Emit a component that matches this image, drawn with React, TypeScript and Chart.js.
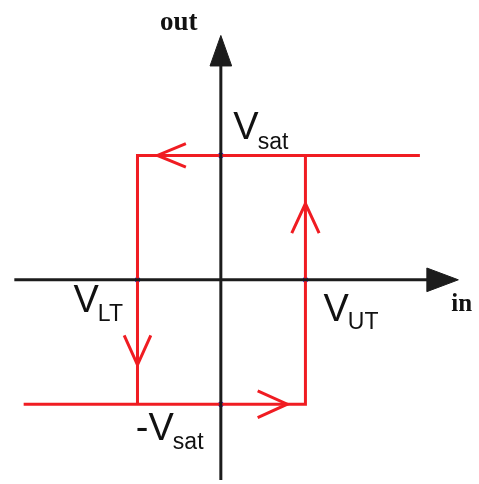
import React, { useEffect, useRef } from "react";
import { Chart, registerables } from "chart.js";

Chart.register(...registerables);

// Levels (normalised: Vsat = 1)
const VSAT = 1;
const VUT = 0.68;
const VLT = -0.67;

// Visible window (same unit on both axes)
const X_RANGE = [-1.743, 2.043];
const Y_RANGE = [-1.609, 2.217];

// Axes (in / out)
const hAxisX = [-1.66, 1.86];
const hAxisY = [0, 0];
const vAxisX = [0, 0];
const vAxisY = [-1.62, 1.93];
const hHeadX = [1.656, 1.909, 1.656, 1.656];
const hHeadY = [0.095, 0, -0.095, 0.095];
const vHeadX = [-0.087, 0, 0.087, -0.087];
const vHeadY = [1.719, 1.964, 1.719, 1.719];

// Hysteresis loop branches
const upperBranchX = [1.6, VLT, VLT];
const upperBranchY = [VSAT, VSAT, -VSAT];
const lowerBranchX = [-1.585, VUT, VUT];
const lowerBranchY = [-VSAT, -VSAT, VSAT];

// Direction chevrons
const leftChevX = [-0.281, -0.51, -0.281];
const leftChevY = [1.095, 1, 0.905];
const upChevX = [VUT - 0.11, VUT, VUT + 0.11];
const upChevY = [0.375, 0.613, 0.375];
const downChevX = [VLT - 0.107, VLT, VLT + 0.107];
const downChevY = [-0.447, -0.684, -0.447];
const rightChevX = [0.296, 0.534, 0.296];
const rightChevY = [-0.893, -1, -1.107];

// Marked points
const markX = [0, VLT, VUT, 0];
const markY = [VSAT, 0, 0, -VSAT];

const pts = (xs: number[], ys: number[]) => xs.map((x, i) => ({ x, y: ys[i] }));

const RED = "#f01c22";
const BLACK = "#1c1c1c";

const labelPlugin = {
  id: "labels",
  afterDatasetsDraw(chart: any) {
    const { ctx } = chart;
    const sx = chart.scales.x;
    const sy = chart.scales.y;
    const px = (v: number) => sx.getPixelForValue(v);
    const py = (v: number) => sy.getPixelForValue(v);
    ctx.save();
    ctx.fillStyle = "#111";
    ctx.textBaseline = "alphabetic";
    ctx.textAlign = "left";
    const sub = (main: string, s: string, x: number, y: number, dy: number) => {
      ctx.font = '38px "Liberation Sans", Arial, sans-serif';
      ctx.fillText(main, x, y);
      const w = ctx.measureText(main).width;
      ctx.font = '23px "Liberation Sans", Arial, sans-serif';
      ctx.fillText(s, x + w - 1, y + dy);
    };
    sub("V", "sat", px(0) + 12.5, py(VSAT) - 16, 10);
    sub("V", "LT", px(VLT) - 64, py(0) + 32.5, 9);
    sub("V", "UT", px(VUT) + 18, py(0) + 41.5, 8);
    sub("-V", "sat", px(0) - 85, py(-VSAT) + 36, 9);
    ctx.font = 'bold 27px "Liberation Serif", "Times New Roman", serif';
    ctx.textAlign = "center";
    ctx.fillText("out", px(0) - 42, 30);
    ctx.font = 'bold 25px "Liberation Serif", "Times New Roman", serif';
    ctx.textAlign = "left";
    ctx.fillText("in", px(1.909) - 7, py(0) + 31.5);
    ctx.restore();
  },
};

export default function App() {
  const ref = useRef<HTMLCanvasElement>(null);
  useEffect(() => {
    if (!ref.current) return;
    const line = (data: any, color: string, width = 3) => ({
      data,
      showLine: true,
      borderColor: color,
      borderWidth: width,
      pointRadius: 0,
      fill: false,
      tension: 0,
      borderJoinStyle: "miter",
      borderCapStyle: "butt",
    });
    const head = (data: any) => ({
      data,
      showLine: true,
      borderColor: BLACK,
      backgroundColor: BLACK,
      borderWidth: 1,
      pointRadius: 0,
      fill: "shape",
      tension: 0,
    });
    const chart = new Chart(ref.current, {
      type: "scatter",
      data: {
        datasets: [
          line(pts(hAxisX, hAxisY), BLACK),
          line(pts(vAxisX, vAxisY), BLACK),
          head(pts(hHeadX, hHeadY)),
          head(pts(vHeadX, vHeadY)),
          line(pts(upperBranchX, upperBranchY), RED),
          line(pts(lowerBranchX, lowerBranchY), RED),
          line(pts(leftChevX, leftChevY), RED),
          line(pts(upChevX, upChevY), RED),
          line(pts(downChevX, downChevY), RED),
          line(pts(rightChevX, rightChevY), RED),
          {
            data: pts(markX, markY),
            showLine: false,
            pointRadius: 2.8,
            backgroundColor: "#1414ff",
            borderColor: "#1414ff",
            pointBackgroundColor: "#1414ff",
            pointBorderColor: "#1414ff",
            pointBorderWidth: 0,
          },
        ] as any,
      },
      options: {
        animation: false,
        responsive: false,
        maintainAspectRatio: false,
        layout: { padding: 0 },
        plugins: { legend: { display: false }, tooltip: { enabled: false } },
        events: [],
        scales: {
          x: { type: "linear", min: X_RANGE[0], max: X_RANGE[1], display: false },
          y: { type: "linear", min: Y_RANGE[0], max: Y_RANGE[1], display: false },
        },
      },
      plugins: [labelPlugin],
    });
    return () => chart.destroy();
  }, []);
  return (
    <div style={{ position: "absolute", left: 0, top: 0, width: 479, height: 484, background: "#fff" }}>
      <canvas ref={ref} width={479} height={484} style={{ display: "block" }} />
    </div>
  );
}
